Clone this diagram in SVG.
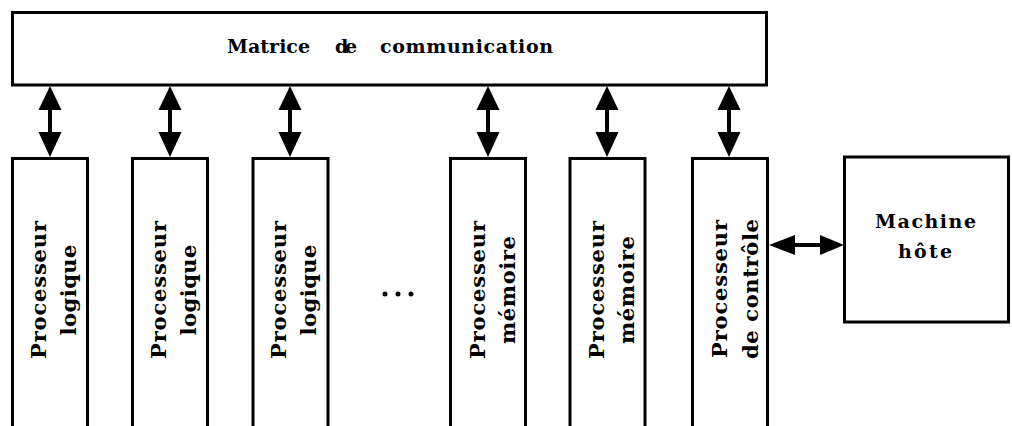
<svg xmlns="http://www.w3.org/2000/svg" xmlns:xlink="http://www.w3.org/1999/xlink" width="1012" height="426" viewBox="0 0 1012 426">
<style>
.box{fill:#fff;stroke:#000;stroke-width:3}
.t{font-family:"DejaVu Serif","Liberation Serif",serif;font-weight:bold;fill:#000}
.h{font-size:19px}
.v{font-size:21px;text-anchor:middle}
.c{text-anchor:middle}
.arr{fill:#000}
</style>
<defs>
<g id="varrow" class="arr">
<path d="M0,0 L11.5,24 L-11.5,24 Z"/>
<rect x="-2" y="22" width="4" height="26"/>
<path d="M-11.5,46 L11.5,46 L0,71 Z"/>
</g>
</defs>
<rect width="1012" height="426" fill="#fff"/>
<g id="connectors">
<use xlink:href="#varrow" transform="translate(50,86)"/>
<use xlink:href="#varrow" transform="translate(170,86)"/>
<use xlink:href="#varrow" transform="translate(290,86)"/>
<use xlink:href="#varrow" transform="translate(488,86)"/>
<use xlink:href="#varrow" transform="translate(607,86)"/>
<use xlink:href="#varrow" transform="translate(729,86)"/>
<g class="arr">
<path d="M769,245 L795,235 L795,255 Z"/>
<rect x="793" y="243" width="29" height="4"/>
<path d="M820,235 L844,245 L820,255 Z"/>
</g>
</g>
<g id="matrice">
<rect class="box" x="12.5" y="12.5" width="754" height="72.5"/>
<text class="t h" x="227" y="53" textLength="83" lengthAdjust="spacing">Matrice</text>
<text class="t h" x="335" y="53" textLength="22" lengthAdjust="spacing">de</text>
<text class="t h" x="380" y="53" textLength="173" lengthAdjust="spacing">communication</text>
</g>
<g id="pl1">
<rect class="box" x="12.5" y="158.5" width="75" height="280"/>
<g transform="translate(12.5,290) rotate(-90)">
<text class="t v" x="0" y="33" textLength="138" lengthAdjust="spacing">Processeur</text>
<text class="t v" x="0" y="63" textLength="91" lengthAdjust="spacing">logique</text>
</g>
</g>
<g id="pl2">
<rect class="box" x="132.5" y="158.5" width="75" height="280"/>
<g transform="translate(132.5,290) rotate(-90)">
<text class="t v" x="0" y="33" textLength="138" lengthAdjust="spacing">Processeur</text>
<text class="t v" x="0" y="63" textLength="91" lengthAdjust="spacing">logique</text>
</g>
</g>
<g id="pl3">
<rect class="box" x="253" y="158.5" width="75" height="280"/>
<g transform="translate(253,290) rotate(-90)">
<text class="t v" x="0" y="33" textLength="138" lengthAdjust="spacing">Processeur</text>
<text class="t v" x="0" y="63" textLength="91" lengthAdjust="spacing">logique</text>
</g>
</g>
<g id="ellipsis">
<circle cx="385" cy="294" r="2.5"/>
<circle cx="398" cy="294" r="2.5"/>
<circle cx="411" cy="294" r="2.5"/>
</g>
<g id="pm1">
<rect class="box" x="450.5" y="158.5" width="75" height="280"/>
<g transform="translate(450.5,290) rotate(-90)">
<text class="t v" x="0" y="34" textLength="138" lengthAdjust="spacing">Processeur</text>
<text class="t v" x="0" y="64" textLength="108" lengthAdjust="spacing">mémoire</text>
</g>
</g>
<g id="pm2">
<rect class="box" x="570" y="158.5" width="75" height="280"/>
<g transform="translate(570,290) rotate(-90)">
<text class="t v" x="0" y="34" textLength="138" lengthAdjust="spacing">Processeur</text>
<text class="t v" x="0" y="64" textLength="108" lengthAdjust="spacing">mémoire</text>
</g>
</g>
<g id="pc">
<rect class="box" x="692.5" y="158.5" width="75" height="280"/>
<g transform="translate(692.5,289) rotate(-90)">
<text class="t v" x="0" y="34" textLength="138" lengthAdjust="spacing">Processeur</text>
<text class="t v" x="0" y="65" textLength="140" lengthAdjust="spacing">de contrôle</text>
</g>
</g>
<g id="hote">
<rect class="box" x="844.5" y="157" width="164" height="165"/>
<text class="t h c" x="925.5" y="228" textLength="101" lengthAdjust="spacing">Machine</text>
<text class="t h c" x="925" y="258" textLength="54" lengthAdjust="spacing">hôte</text>
</g>
</svg>
